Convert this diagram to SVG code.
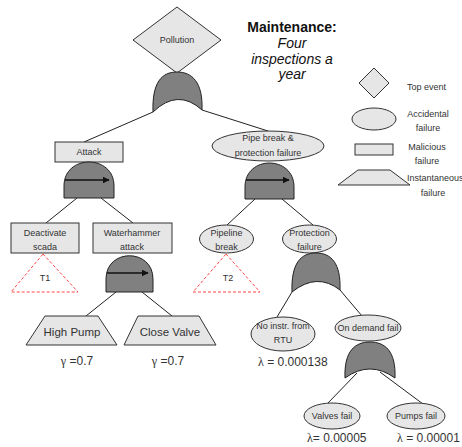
<svg xmlns="http://www.w3.org/2000/svg" width="462" height="447" viewBox="0 0 462 447">
<style>
text{font-family:"Liberation Sans",Arial,sans-serif;fill:#333;}
.n{fill:#e6e6e6;stroke:#333;stroke-width:1;}
.g{fill:#808080;stroke:#222;stroke-width:1;}
.c{stroke:#222;stroke-width:1;fill:none;}
.t9{font-size:9px;text-anchor:middle;}
.t9l{font-size:9px;}
.big{font-size:11.5px;text-anchor:middle;}
.v{font-size:12px;}
.tri{fill:none;stroke:#f44;stroke-width:1;stroke-dasharray:3,2;}
.arr{stroke:#111;stroke-width:1.3;fill:none;marker-end:url(#ah);}
.gr{font-family:"Liberation Serif","DejaVu Serif",serif;}
</style>
<defs>
<marker id="ah" viewBox="0 0 10 10" refX="9" refY="5" markerWidth="7" markerHeight="7" markerUnits="userSpaceOnUse" orient="auto">
<path d="M0,0 L10,5 L0,10 Z" fill="#111"/>
</marker>
</defs>

<g id="title">
<text x="292" y="32" style="font-size:14px;font-weight:bold;text-anchor:middle;fill:#111">Maintenance:</text>
<text x="292" y="48" style="font-size:14px;font-style:italic;text-anchor:middle;fill:#111">Four</text>
<text x="292" y="63.5" style="font-size:14px;font-style:italic;text-anchor:middle;fill:#111">inspections a</text>
<text x="292" y="79" style="font-size:14px;font-style:italic;text-anchor:middle;fill:#111">year</text>
</g>

<g id="connectors">
<line class="c" x1="153" y1="112" x2="84" y2="142"/>
<line class="c" x1="202" y1="110" x2="268" y2="131"/>
<line class="c" x1="77" y1="198" x2="46" y2="223"/>
<line class="c" x1="101" y1="198" x2="133" y2="223"/>
<line class="c" x1="116" y1="292" x2="86" y2="316"/>
<line class="c" x1="142" y1="292" x2="172" y2="316"/>
<line class="c" x1="255" y1="199" x2="227" y2="225"/>
<line class="c" x1="282" y1="199" x2="313" y2="225"/>
<line class="c" x1="292" y1="292" x2="277" y2="317"/>
<line class="c" x1="340" y1="290" x2="362" y2="316"/>
<line class="c" x1="357" y1="373" x2="328" y2="403"/>
<line class="c" x1="380" y1="372" x2="423" y2="404"/>
</g>

<g id="pollution">
<polygon class="n" points="177,7 221,40 177,73 133,40"/>
<text class="t9" x="177" y="43">Pollution</text>
</g>
<g id="gate-pollution">
<path class="g" d="M153,112 C152,82 162,72 177,72 C192,72 203,82 202,110 Q178,88 153,112 Z"/>
</g>

<g id="attack">
<rect class="n" x="55" y="142" width="68" height="20"/>
<text class="t9" x="89" y="155">Attack</text>
</g>
<g id="gate-attack">
<path class="g" d="M64,198 V186 C64,154 114,154 114,186 V198 Z"/>
<line class="arr" x1="65" y1="180" x2="109" y2="180"/>
</g>

<g id="deactivate">
<rect class="n" x="11" y="223" width="68" height="30"/>
<text class="t9" x="45" y="236">Deactivate</text>
<text class="t9" x="45" y="250">scada</text>
</g>
<g id="t1">
<polygon class="tri" points="43,254 78,292 11,292"/>
<text class="t9" x="45" y="281">T1</text>
</g>

<g id="waterhammer">
<rect class="n" x="93" y="223" width="79" height="30"/>
<text class="t9" x="132" y="236">Waterhammer</text>
<text class="t9" x="132" y="250">attack</text>
</g>
<g id="gate-waterhammer">
<path class="g" d="M106,292 V279 C106,248 153,248 153,279 V292 Z"/>
<line class="arr" x1="107" y1="273" x2="148" y2="273"/>
</g>

<g id="highpump">
<polygon class="n" points="45,316 98,316 117,345 26,345"/>
<text class="big" x="72" y="336">High Pump</text>
</g>
<g id="closevalve">
<polygon class="n" points="138,316 199,316 216,345 124,345"/>
<text class="big" x="170" y="336">Close Valve</text>
</g>
<text class="v" x="77" y="365" text-anchor="middle"><tspan class="gr">γ</tspan> =0.7</text>
<text class="v" x="168" y="365" text-anchor="middle"><tspan class="gr">γ</tspan> =0.7</text>

<g id="pipebreak">
<ellipse class="n" cx="268" cy="146" rx="56" ry="15"/>
<text class="t9" x="268" y="141">Pipe break &amp;</text>
<text class="t9" x="268" y="156">protection failure</text>
</g>
<g id="gate-pipebreak">
<path class="g" d="M245,199 V187 C245,155 294,155 294,187 V199 Z"/>
<line class="arr" x1="246" y1="180" x2="289" y2="180"/>
</g>

<g id="pipeline">
<ellipse class="n" cx="226.5" cy="239" rx="27" ry="14"/>
<text class="t9" x="226.5" y="236">Pipeline</text>
<text class="t9" x="226.5" y="250">break</text>
</g>
<g id="t2">
<polygon class="tri" points="226,254 260,292 193,292"/>
<text class="t9" x="228" y="281">T2</text>
</g>

<g id="protection">
<ellipse class="n" cx="309.5" cy="239" rx="27" ry="14"/>
<text class="t9" x="309.5" y="236">Protection</text>
<text class="t9" x="309.5" y="250">failure</text>
</g>
<g id="gate-protection">
<path class="g" d="M292,292 C291,263 301,253 316,253 C331,253 341,263 340,290 Q317,272 292,292 Z"/>
</g>

<g id="noinstr">
<ellipse class="n" cx="283" cy="334" rx="32" ry="17"/>
<text class="t9" x="283" y="329">No instr. from</text>
<text class="t9" x="283" y="343">RTU</text>
</g>
<text class="v" x="258" y="366"><tspan class="gr">λ</tspan> = 0.000138</text>

<g id="ondemand">
<ellipse class="n" cx="368" cy="328" rx="33" ry="13"/>
<text class="t9" x="368" y="331">On demand fail</text>
</g>
<g id="gate-ondemand">
<path class="g" d="M345,378 C344,351 355,342 370,342 C385,342 396,351 395,378 Q370,360 345,378 Z"/>
</g>

<g id="valves">
<ellipse class="n" cx="332" cy="416" rx="28" ry="13"/>
<text class="t9" x="332" y="419">Valves fail</text>
</g>
<g id="pumps">
<ellipse class="n" cx="416" cy="416" rx="29" ry="13"/>
<text class="t9" x="416" y="419">Pumps fail</text>
</g>
<text class="v" x="307" y="442"><tspan class="gr">λ</tspan>= 0.00005</text>
<text class="v" x="397" y="442"><tspan class="gr">λ</tspan> = 0.00001</text>

<g id="legend">
<polygon class="n" points="374,68 389,83 374,98 359,83"/>
<text class="t9l" x="407" y="90">Top event</text>
<ellipse class="n" cx="374" cy="119" rx="22" ry="11"/>
<text class="t9" x="428" y="117">Accidental</text>
<text class="t9" x="428" y="131">failure</text>
<rect class="n" x="355" y="144" width="38" height="11"/>
<text class="t9" x="427" y="150">Malicious</text>
<text class="t9" x="427" y="164">failure</text>
<polygon class="n" points="358,170 390,170 410,185 338,185"/>
<text class="t9l" x="407" y="181">Instantaneous</text>
<text class="t9" x="433" y="196">failure</text>
</g>
</svg>
